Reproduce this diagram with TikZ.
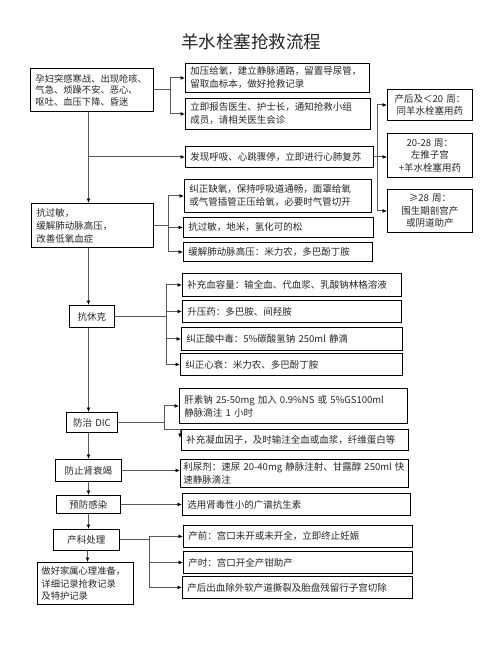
\documentclass[tikz,border=0pt]{standalone}
\usepackage{fontspec}
\newfontfamily\cjk{Noto Sans CJK SC}
\usetikzlibrary{arrows.meta}
\begin{document}
\begin{tikzpicture}[x=1pt,y=-1pt,
  bx/.style={draw=black, line width=0.9pt, anchor=north west, inner xsep=5pt, inner ysep=0pt, align=left, text=black!85, font=\cjk\fontsize{9.5}{13}\selectfont},
  cb/.style={bx, align=center},
  ln/.style={draw=black!65, line width=1pt},
  ar/.style={ln, -{Latex[length=4.5pt,width=4pt,color=black]}}]
\useasboundingbox[fill=white] (0,0) rectangle (502,649);
\node[font=\cjk\fontsize{17.5}{20}\selectfont, text=black!85] (T) at (251,42) {羊水栓塞抢救流程};
% junction coordinates
\coordinate (sp) at (88.5,0);
\coordinate (sp2) at (87.5,0);
\coordinate (jA) at (170,0);
\coordinate (jR) at (377,0);
\coordinate (jD) at (168,0);
\coordinate (jK) at (166,0);
\coordinate (jG) at (164,0);
\coordinate (jQ) at (149,0);
% boxes
\node[bx, minimum width=123pt, minimum height=43pt, text width=113pt, font=\cjk\fontsize{9.3}{11.5}\selectfont] (A) at (30,68) {孕妇突感寒战、出现呛咳、\\气急、烦躁不安、恶心、\\呕吐、血压下降、昏迷};
\node[bx, minimum width=184pt, minimum height=29pt, text width=174pt] (B1) at (185,63) {加压给氧，建立静脉通路，留置导尿管，\\留取血标本，做好抢救记录};
\node[bx, minimum width=185pt, minimum height=31pt, text width=175pt] (B2) at (185,98) {立即报告医生、护士长，通知抢救小组\\成员，请相关医生会诊};
\node[bx, minimum width=188pt, minimum height=21pt, text width=178pt] (C) at (185,146) {发现呼吸、心跳骤停，立即进行心肺复苏};
\node[cb, minimum width=85pt, minimum height=31pt, text width=81pt, inner xsep=2pt, font=\cjk\fontsize{9.5}{12}\selectfont] (R1) at (387,89) {产后及＜20 周：\\同羊水栓塞用药};
\node[cb, minimum width=85pt, minimum height=44pt, text width=81pt, inner xsep=2pt, font=\cjk\fontsize{9.5}{12.5}\selectfont] (R2) at (387,133) {20-28 周：\\左推子宫\\+羊水栓塞用药};
\node[cb, minimum width=85pt, minimum height=43pt, text width=81pt, inner xsep=2pt, font=\cjk\fontsize{9.5}{12.5}\selectfont] (R3) at (387,189) {≥28 周：\\围生期剖宫产\\或阴道助产};
\node[bx, minimum width=122pt, minimum height=44pt, text width=112pt] (D) at (31,203) {抗过敏，\\缓解肺动脉高压，\\改善低氧血症};
\node[bx, minimum width=187pt, minimum height=33pt, text width=177pt] (E1) at (184,179) {纠正缺氧，保持呼吸道通畅，面罩给氧\\或气管插管正压给氧，必要时气管切开};
\node[bx, minimum width=190pt, minimum height=20pt, text width=180pt] (E2) at (183,217) {抗过敏，地米，氢化可的松};
\node[bx, minimum width=189pt, minimum height=19pt, text width=179pt] (E3) at (183,242) {缓解肺动脉高压：米力农，多巴酚丁胺};
\node[cb, minimum width=45pt, minimum height=22pt, text width=41pt, inner xsep=2pt] (K) at (69,305) {抗休克};
\node[bx, minimum width=219pt, minimum height=23pt, text width=209pt] (F1) at (182,273) {补充血容量：输全血、代血浆、乳酸钠林格溶液};
\node[bx, minimum width=219pt, minimum height=22pt, text width=209pt] (F2) at (182,300) {升压药：多巴胺、间羟胺};
\node[bx, minimum width=221pt, minimum height=23pt, text width=211pt] (F3) at (181,327) {纠正酸中毒：5\%碳酸氢钠 250ml 静滴};
\node[bx, minimum width=222pt, minimum height=22pt, text width=212pt] (F4) at (180,353) {纠正心衰：米力农、多巴酚丁胺};
\node[cb, minimum width=51pt, minimum height=20pt, text width=47pt, inner xsep=2pt] (DIC) at (66,412) {防治 DIC};
\node[bx, minimum width=228pt, minimum height=35pt, text width=218pt] (G1) at (179,388) {肝素钠 25-50mg 加入 0.9\%NS 或 5\%GS100ml\\静脉滴注 1 小时};
\node[bx, minimum width=227pt, minimum height=21pt, text width=217pt] (G2) at (181,429) {补充凝血因子，及时输注全血或血浆，纤维蛋白等};
\node[cb, minimum width=66pt, minimum height=22pt, text width=62pt, inner xsep=2pt] (S) at (55,459) {防止肾衰竭};
\node[bx, minimum width=228pt, minimum height=28pt, text width=222pt, inner xsep=3pt] (G3) at (180,459) {利尿剂：速尿 20-40mg 静脉注射、甘露醇 250ml 快\\速静脉滴注};
\node[cb, minimum width=64pt, minimum height=18pt, text width=60pt, inner xsep=2pt] (P) at (56,495) {预防感染};
\node[bx, minimum width=228pt, minimum height=22pt, text width=218pt] (H) at (182,493) {选用肾毒性小的广谱抗生素};
\node[cb, minimum width=66pt, minimum height=21pt, text width=62pt, inner xsep=2pt] (Q) at (53,529) {产科处理};
\node[bx, minimum width=229pt, minimum height=22pt, text width=219pt] (I1) at (183,525) {产前：宫口未开或未开全，立即终止妊娠};
\node[bx, minimum width=229pt, minimum height=22pt, text width=219pt] (I2) at (183,551) {产时：宫口开全产钳助产};
\node[bx, minimum width=230pt, minimum height=22pt, text width=220pt] (I3) at (182,576) {产后出血除外软产道撕裂及胎盘残留行子宫切除};
\node[bx, minimum width=96pt, minimum height=42pt, text width=88pt, inner xsep=4pt, font=\cjk\fontsize{9.3}{12.5}\selectfont] (Z) at (37,562) {做好家属心理准备，\\详细记录抢救记录\\及特护记录};
% main spine
\draw[ar] (A.south -| sp) -- (D.north -| sp);
\draw[ar] (C.west -| sp) -- (C.west);
\draw[ar] (D.south -| sp) -- (K.north -| sp);
\draw[ar] (K.south -| sp) -- (DIC.north -| sp);
\draw[ar] (DIC.south -| sp) -- (S.north -| sp);
\draw[ar] (S.south -| sp) -- (P.north -| sp);
\draw[ar] (P.south -| sp) -- (Q.north -| sp);
\draw[ar] (Q.south -| sp2) -- (Z.north -| sp2);
% A branches
\draw[ln] (A.east) -- (A.east -| jA);
\draw[ar] (A.east -| jA) |- (B1.west);
\draw[ar] (A.east -| jA) |- (B2.west);
% C branches
\draw[ln] (R1.west -| jR) -- (R3.west -| jR);
\draw[ar] (R1.west -| jR) -- (R1.west);
\draw[ar] (C.east) -- (C.east -| R2.west);
\draw[ar] (R3.west -| jR) -- (R3.west);
% D branches
\draw[ln] (D.east) -- (D.east -| jD);
\draw[ar] (D.east -| jD) |- (E1.west);
\draw[ar] (D.east -| jD) |- (E2.west);
\draw[ar] (D.east -| jD) |- (E3.west);
% K branches
\draw[ln] (K.east) -- (K.east -| jK);
\draw[ar] (K.east -| jK) |- (F1.west);
\draw[ar] (K.east -| jK) |- (F2.west);
\draw[ar] (K.east -| jK) |- (F3.west);
\draw[ar] (K.east -| jK) |- (F4.west);
% DIC branches
\draw[ln] (DIC.east) -- (DIC.east -| jG);
\draw[ar] (DIC.east -| jG) |- (G1.west);
\draw[ar] (DIC.east -| jG) |- ([xshift=-1pt]G2.north west) -- ([xshift=-1pt,yshift=-9pt]G2.north west);
% single arrows
\draw[ar] (S.east) -- (S.east -| G3.west);
\draw[ar] (P.east) -- (P.east -| H.west);
% Q branches
\draw[ln] (Q.east) -- (Q.east -| jQ);
\draw[ar] (Q.east -| jQ) |- (I1.west);
\draw[ar] (Q.east -| jQ) |- (I2.west);
\draw[ar] (Q.east -| jQ) |- (I3.west);
\end{tikzpicture}
\end{document}
